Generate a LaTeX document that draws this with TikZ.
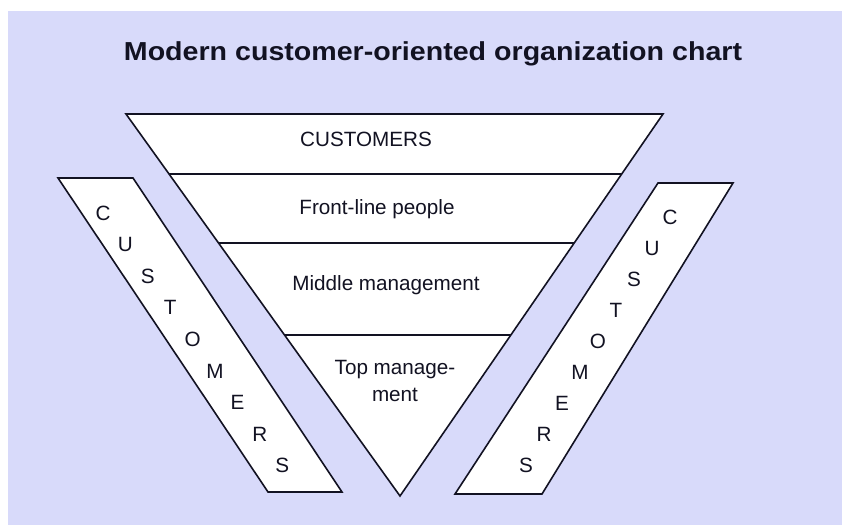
\documentclass[tikz,border=0pt]{standalone}
\usepackage{fontspec}
\setmainfont{Liberation Sans}
\definecolor{bgblue}{RGB}{216,218,250}
\definecolor{ink}{RGB}{18,18,34}

\begin{document}
\begin{tikzpicture}
[x=0.75pt,y=-0.75pt,
 every node/.style={inner sep=0pt, text=ink, font=\fontsize{15.5}{20}\selectfont},
 shapeline/.style={draw=ink, fill=white, line width=1.2pt, line join=miter},
 layer/.style={draw=ink, line width=1.2pt}]
\useasboundingbox (0,0) rectangle (842,525);
\fill[white] (0,0) rectangle (842,525);
\fill[bgblue] (8,11) rectangle (842,525);

% title
\node (title) at (433,54)
  {\scalebox{1.1}[1]{\fontsize{19.5}{24}\selectfont\bfseries Modern customer-oriented organization chart}};

% the upside-down pyramid
\draw[shapeline] (126,114) -- (663,114) -- (400,496) -- cycle;
\draw[layer] (169,174) -- (621,174);
\draw[layer] (218,243) -- (574,243);
\draw[layer] (284,335) -- (511,335);

\node (cust)   at (366,139) {CUSTOMERS};
\node (front)  at (377,209) {Front-line people};
\node (middle) at (386,285) {Middle management};
\node[align=center, font=\fontsize{15.5}{20}\selectfont] (top) at (395,381) {Top manage-\\ment};

% side bands
\draw[shapeline] (58,178) -- (133,178) -- (342,492) -- (268,492) -- cycle;
\draw[shapeline] (658,183) -- (733,183) -- (542,494) -- (455,494) -- cycle;

\def \n {8}
\foreach \ch [count=\i from 0] in {C,U,S,T,O,M,E,R,S}
{
  \node (left\i)  at (103+22.4*\i, 213+31.6*\i) {\ch};
  \node (right\i) at (670-18*\i, 217+31*\i) {\ch};
}
\end{tikzpicture}
\end{document}
